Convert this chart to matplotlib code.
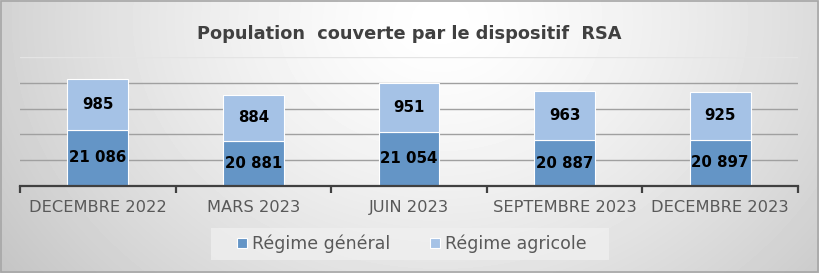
import numpy as np
import matplotlib
matplotlib.use("Agg")
import matplotlib.pyplot as plt
from matplotlib.patches import Rectangle

categories = ["DECEMBRE 2022", "MARS 2023", "JUIN 2023", "SEPTEMBRE 2023", "DECEMBRE 2023"]
regime_general = [21086, 20881, 21054, 20887, 20897]
regime_agricole = [985, 884, 951, 963, 925]
labels_general = ["21 086", "20 881", "21 054", "20 887", "20 897"]
labels_agricole = ["985", "884", "951", "963", "925"]
series_names = ["Régime général", "Régime agricole"]
y_min, y_max, y_step = 20000, 22500, 500

col_gen = "#6495C6"
col_agr = "#A5C2E6"

fig = plt.figure(figsize=(8.19, 2.73), dpi=100)

# gradient background
bg = fig.add_axes([0, 0, 1, 1], zorder=-10)
W, H = 819, 273
xx, yy = np.meshgrid(np.arange(W), np.arange(H))
d = np.sqrt(((xx - 440) / 520.0) ** 2 + ((yy - 20) / 420.0) ** 2)
val = np.clip(1.0 - 0.22 * d ** 1.4, 0.75, 1.0)
bg.imshow(val, cmap="gray", vmin=0, vmax=1, aspect="auto", extent=[0, W, H, 0])
bg.set_xlim(0, W); bg.set_ylim(H, 0)
bg.axis("off")
bg.add_patch(Rectangle((0.5, 0.5), W - 1.5, H - 1.5, fill=False, ec="#a6a6a6", lw=1.2))
# legend backdrop
bg.add_patch(Rectangle((211, 228), 398, 32, fc="#f0f0f0", ec="none", alpha=0.75))

ax = fig.add_axes([20 / W, 1 - 186 / H, (798 - 20) / W, (186 - 57) / H])
ax.set_facecolor("none")
x = np.arange(len(categories))
bw = 0.39
ax.bar(x, [v - y_min for v in regime_general], bottom=y_min, width=bw, color=col_gen,
       edgecolor="white", linewidth=0.8, zorder=3, label=series_names[0])
ax.bar(x, regime_agricole, bottom=regime_general, width=bw, color=col_agr,
       edgecolor="white", linewidth=0.8, zorder=3, label=series_names[1])

for i in range(len(categories)):
    ax.text(x[i], (y_min + regime_general[i]) / 2, labels_general[i], ha="center", va="center",
            fontsize=10.8, fontweight="bold", color="black", zorder=5)
    ax.text(x[i], regime_general[i] + regime_agricole[i] / 2, labels_agricole[i], ha="center",
            va="center", fontsize=10.8, fontweight="bold", color="black", zorder=5)

ax.set_ylim(y_min, y_max)
ax.set_xlim(-0.5, len(categories) - 0.5)
for gy in np.arange(y_min + y_step, y_max + 1, y_step):
    c = "#e4e4e4" if gy == y_max else "#a0a0a0"
    ax.axhline(gy, color=c, lw=1.0, zorder=1)
ax.set_yticks([])
for s in ["top", "right", "left"]:
    ax.spines[s].set_visible(False)
ax.spines["bottom"].set_color("#404040")
ax.spines["bottom"].set_linewidth(1.6)
ax.spines["bottom"].set_zorder(4)
ax.set_xticks(np.arange(-0.5, len(categories), 1.0))
ax.set_xticklabels([])
ax.tick_params(axis="x", length=5, width=1.6, color="#404040", direction="out")
for i, c in enumerate(categories):
    ax.text(x[i], -0.17, c, transform=ax.get_xaxis_transform(), ha="center", va="center",
            fontsize=11.7, color="#595959")

fig.text(0.5, 1 - 34 / H, "Population  couverte par le dispositif  RSA", ha="center", va="center",
         fontsize=12.8, fontweight="bold", color="#404040")

handles, labs = ax.get_legend_handles_labels()
leg = fig.legend(handles, labs, loc="center", bbox_to_anchor=(412 / W, 1 - 244 / H), ncol=2,
                 frameon=False, fontsize=12.5, handlelength=0.55, handleheight=0.55,
                 handletextpad=0.3, columnspacing=2.3, labelcolor="#595959")

fig.savefig("out.png", dpi=100)
